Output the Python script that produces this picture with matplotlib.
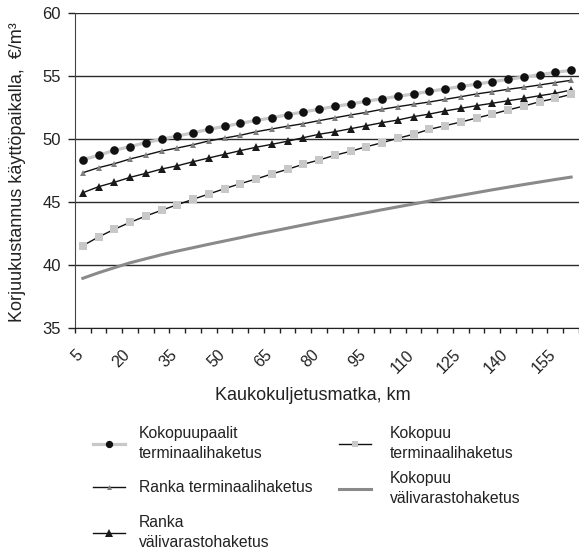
import matplotlib
matplotlib.use("Agg")
import matplotlib.pyplot as plt
import matplotlib.transforms as mtransforms
from matplotlib.ticker import FixedLocator, NullFormatter

plt.rcParams["font.family"] = ["Liberation Sans", "DejaVu Sans"]

# Kaukokuljetusmatka (km), luokka-akseli
distance_km = list(range(5, 165, 5))
tick_labels = [str(d) for d in distance_km[::3]]

# Korjuukustannus käyttöpaikalla, €/m3 (luettu kuvasta)
kokopuupaalit_terminaali = [
    48.38, 48.73, 49.13, 49.42, 49.74, 50.00, 50.26, 50.52, 50.79, 51.03,
    51.27, 51.50, 51.71, 51.95, 52.17, 52.38, 52.62, 52.80, 53.02, 53.22,
    53.41, 53.60, 53.80, 54.00, 54.19, 54.38, 54.57, 54.76, 54.94, 55.13,
    55.31, 55.48]
ranka_terminaali = [
    47.35, 47.75, 48.06, 48.44, 48.75, 49.07, 49.31, 49.57, 49.87, 50.10,
    50.32, 50.60, 50.82, 51.04, 51.24, 51.48, 51.71, 51.93, 52.14, 52.38,
    52.59, 52.78, 52.96, 53.17, 53.38, 53.60, 53.78, 53.97, 54.13, 54.31,
    54.50, 54.68]
ranka_valivarasto = [
    45.76, 46.24, 46.59, 46.98, 47.30, 47.64, 47.90, 48.22, 48.52, 48.81,
    49.10, 49.37, 49.60, 49.85, 50.13, 50.40, 50.60, 50.84, 51.08, 51.32,
    51.53, 51.80, 52.00, 52.25, 52.46, 52.67, 52.86, 53.06, 53.25, 53.46,
    53.65, 53.91]
kokopuu_terminaali = [
    41.56, 42.25, 42.86, 43.41, 43.91, 44.37, 44.81, 45.24, 45.66, 46.08,
    46.48, 46.85, 47.25, 47.62, 48.02, 48.36, 48.73, 49.05, 49.41, 49.73,
    50.08, 50.40, 50.79, 51.08, 51.37, 51.69, 52.00, 52.33, 52.64, 52.98,
    53.25, 53.57]
kokopuu_valivarasto = [
    38.97, 39.41, 39.81, 40.20, 40.52, 40.84, 41.13, 41.40, 41.67, 41.93,
    42.19, 42.46, 42.70, 42.95, 43.20, 43.45, 43.69, 43.93, 44.17, 44.41,
    44.64, 44.87, 45.10, 45.33, 45.55, 45.77, 45.99, 46.20, 46.41, 46.61,
    46.81, 47.00]

x = list(range(len(distance_km)))

fig = plt.figure(figsize=(5.79, 5.49), dpi=100)
ax = fig.add_axes([0.1295, 0.402, 0.8705, 0.5738])

# viivat
l1, = ax.plot(x, kokopuupaalit_terminaali, color="#c8c8c8", lw=2.3,
              marker="o", ms=6.2, mfc="#111111", mec="#111111", mew=0,
              label="Kokopuupaalit\nterminaalihaketus", zorder=4)
l2, = ax.plot(x, ranka_terminaali, color="#111111", lw=1.0,
              marker="^", ms=4.2, mfc="#808080", mec="#808080", mew=0,
              label="Ranka terminaalihaketus", zorder=4)
l3, = ax.plot(x, ranka_valivarasto, color="#111111", lw=1.0,
              marker="^", ms=6.0, mfc="#1a1a1a", mec="#1a1a1a", mew=0,
              label="Ranka\nvälivarastohaketus", zorder=4)
l4, = ax.plot(x, kokopuu_terminaali, color="#111111", lw=1.0,
              marker="s", ms=5.8, mfc="#c8c8c8", mec="#c8c8c8", mew=0,
              label="Kokopuu\nterminaalihaketus", zorder=4)
l5, = ax.plot(x, kokopuu_valivarasto, color="#8a8a8a", lw=2.2,
              label="Kokopuu\nvälivarastohaketus", zorder=3)

# akselit
ax.set_xlim(-0.5, len(x) - 0.5)
ax.set_ylim(35, 60)
ax.set_yticks([35, 40, 45, 50, 55, 60])
ax.yaxis.grid(True, color="#2a2a2a", lw=1.0)
ax.set_axisbelow(True)
for side in ["right", "top"]:
    ax.spines[side].set_visible(False)
ax.spines["left"].set_color("#444444")
ax.spines["bottom"].set_color("#222222")

ax.set_xticks(x[::3])
ax.set_xticklabels(tick_labels, rotation=45, ha="right", va="top")
ax.xaxis.set_minor_locator(FixedLocator([i - 0.5 for i in range(len(x) + 1)]))
ax.xaxis.set_minor_formatter(NullFormatter())
ax.tick_params(axis="x", which="major", length=0, pad=13.5,
               labelsize=11.5, labelcolor="#222222")
ax.tick_params(axis="x", which="minor", length=3.6, width=1.0,
               direction="out", color="#222222")
ax.tick_params(axis="y", length=4.7, width=1.0, pad=5.5,
               labelsize=12, labelcolor="#222222", color="#222222")

offset = mtransforms.ScaledTranslation(0.03, 0, fig.dpi_scale_trans)
for lab in ax.get_xticklabels():
    lab.set_transform(lab.get_transform() + offset)

ax.set_xlabel("Kaukokuljetusmatka, km", fontsize=13, color="#222222")
ax.xaxis.set_label_coords(0.472, -0.186)
ax.set_ylabel("Korjuukustannus käyttöpaikalla,  €/m³", fontsize=13,
              color="#222222")
ax.yaxis.set_label_coords(-0.097, 0.495)

# selite kahtena sarakkeena
leg1 = fig.legend(handles=[l1, l2, l3], loc="upper left",
                  bbox_to_anchor=(0.160, 0.224), frameon=False,
                  fontsize=11.3, borderpad=0, borderaxespad=0,
                  handlelength=2.05, handletextpad=0.9, labelspacing=1.25,
                  markerscale=0.85)
leg2 = fig.legend(handles=[l4, l5], loc="upper left",
                  bbox_to_anchor=(0.586, 0.224), frameon=False,
                  fontsize=11.3, borderpad=0, borderaxespad=0,
                  handlelength=2.05, handletextpad=1.15, labelspacing=0.67,
                  markerscale=0.85)
for leg in (leg1, leg2):
    for t in leg.get_texts():
        t.set_linespacing(1.4)
        t.set_color("#222222")

fig.savefig("out.png", dpi=100)
